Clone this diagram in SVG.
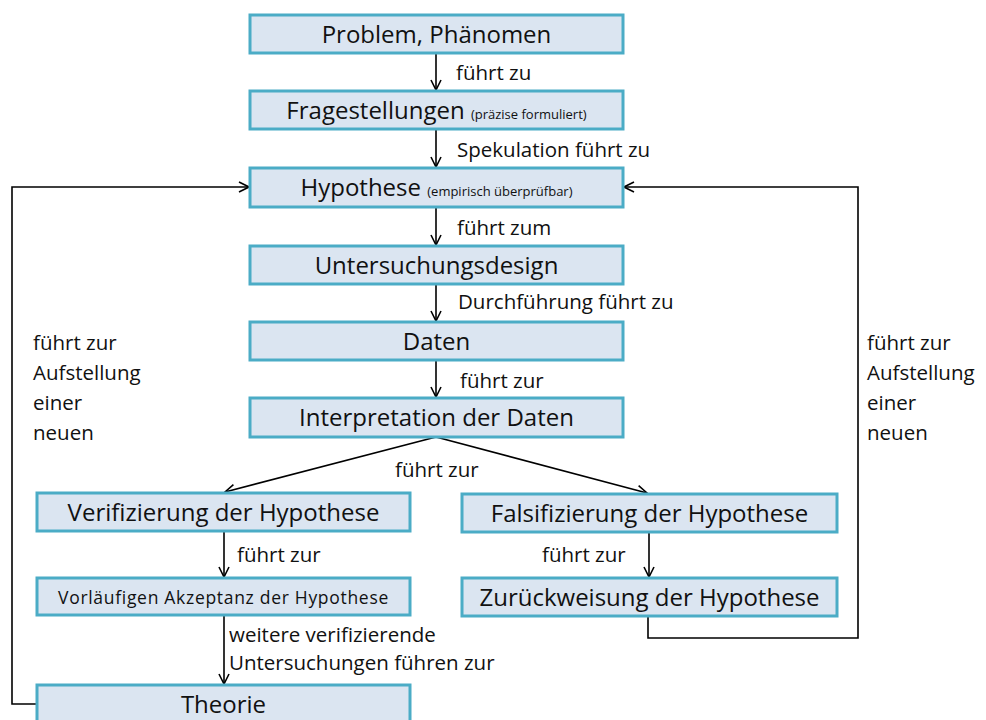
<svg xmlns="http://www.w3.org/2000/svg" width="986" height="720" viewBox="0 0 986 720">
<defs>
<marker id="arr" viewBox="0 0 12 12" refX="11" refY="6" markerWidth="12" markerHeight="12" markerUnits="userSpaceOnUse" orient="auto">
<path d="M1,1 L11,6 L1,11" fill="none" stroke="#000" stroke-width="1.6"/>
</marker>
</defs>
<style>
.box{fill:#dbe5f1;stroke:#4bacc6;stroke-width:3}
.t{font-family:"Open Sans","Liberation Sans",sans-serif;font-size:24px;fill:#111;text-anchor:middle}
.s{font-size:13px}
.l{font-family:"Open Sans","Liberation Sans",sans-serif;font-size:20.5px;fill:#111}
.c{fill:none;stroke:#000;stroke-width:1.6}
</style>
<rect width="986" height="720" fill="#fff"/>
<g id="connectors">
<line class="c" x1="436" y1="53" x2="436" y2="90" marker-end="url(#arr)"/>
<line class="c" x1="436" y1="129" x2="436" y2="167" marker-end="url(#arr)"/>
<line class="c" x1="436" y1="207" x2="436" y2="245" marker-end="url(#arr)"/>
<line class="c" x1="436" y1="284" x2="436" y2="321" marker-end="url(#arr)"/>
<line class="c" x1="436" y1="360" x2="436" y2="397" marker-end="url(#arr)"/>
<line class="c" x1="436" y1="437" x2="225" y2="492" marker-end="url(#arr)"/>
<line class="c" x1="436" y1="437" x2="647" y2="493" marker-end="url(#arr)"/>
<line class="c" x1="224" y1="531" x2="224" y2="577" marker-end="url(#arr)"/>
<line class="c" x1="649" y1="532" x2="649" y2="577" marker-end="url(#arr)"/>
<line class="c" x1="224" y1="615" x2="224" y2="684" marker-end="url(#arr)"/>
<polyline class="c" points="37,704 12,704 12,187 249,187" marker-end="url(#arr)"/>
<polyline class="c" points="648,616 648,638 858,638 858,187 624,187" marker-end="url(#arr)"/>
<text class="l" x="456" y="80">führt zu</text>
<text class="l" x="457" y="157">Spekulation führt zu</text>
<text class="l" x="457" y="235">führt zum</text>
<text class="l" x="458" y="309">Durchführung führt zu</text>
<text class="l" x="460" y="388">führt zur</text>
<text class="l" x="395" y="477">führt zur</text>
<text class="l" x="237" y="562">führt zur</text>
<text class="l" x="542" y="562">führt zur</text>
<text class="l" x="229" y="642">weitere verifizierende</text>
<text class="l" x="229" y="670">Untersuchungen führen zur</text>
<text class="l" x="33" y="350">führt zur</text>
<text class="l" x="33" y="380">Aufstellung</text>
<text class="l" x="33" y="410">einer</text>
<text class="l" x="33" y="440">neuen</text>
<text class="l" x="867" y="350">führt zur</text>
<text class="l" x="867" y="380">Aufstellung</text>
<text class="l" x="867" y="410">einer</text>
<text class="l" x="867" y="440">neuen</text>
</g>
<g id="problem"><rect class="box" x="250" y="15" width="373" height="38"/><text class="t" x="436.5" y="43">Problem, Phänomen</text></g>
<g id="fragestellungen"><rect class="box" x="250" y="91" width="373" height="38"/><text class="t" x="436.5" y="119">Fragestellungen <tspan class="s">(präzise formuliert)</tspan></text></g>
<g id="hypothese"><rect class="box" x="250" y="168" width="373" height="39"/><text class="t" x="436.5" y="196">Hypothese <tspan class="s">(empirisch überprüfbar)</tspan></text></g>
<g id="untersuchungsdesign"><rect class="box" x="250" y="246" width="373" height="38"/><text class="t" x="436.5" y="274">Untersuchungsdesign</text></g>
<g id="daten"><rect class="box" x="250" y="322" width="373" height="38"/><text class="t" x="436.5" y="350">Daten</text></g>
<g id="interpretation"><rect class="box" x="250" y="398" width="373" height="39"/><text class="t" x="436.5" y="426">Interpretation der Daten</text></g>
<g id="verifizierung"><rect class="box" x="37" y="493" width="373" height="38"/><text class="t" x="223.5" y="521">Verifizierung der Hypothese</text></g>
<g id="falsifizierung"><rect class="box" x="462" y="494" width="375" height="38"/><text class="t" x="649.5" y="522">Falsifizierung der Hypothese</text></g>
<g id="akzeptanz"><rect class="box" x="37" y="578" width="373" height="37"/><text class="t" x="223.5" y="604" style="font-size:17.5px;letter-spacing:0.7px">Vorläufigen Akzeptanz der Hypothese</text></g>
<g id="zurueckweisung"><rect class="box" x="462" y="578" width="375" height="38"/><text class="t" x="649.5" y="606">Zurückweisung der Hypothese</text></g>
<g id="theorie"><rect class="box" x="37" y="685" width="373" height="40"/><text class="t" x="223.5" y="713">Theorie</text></g>
</svg>
